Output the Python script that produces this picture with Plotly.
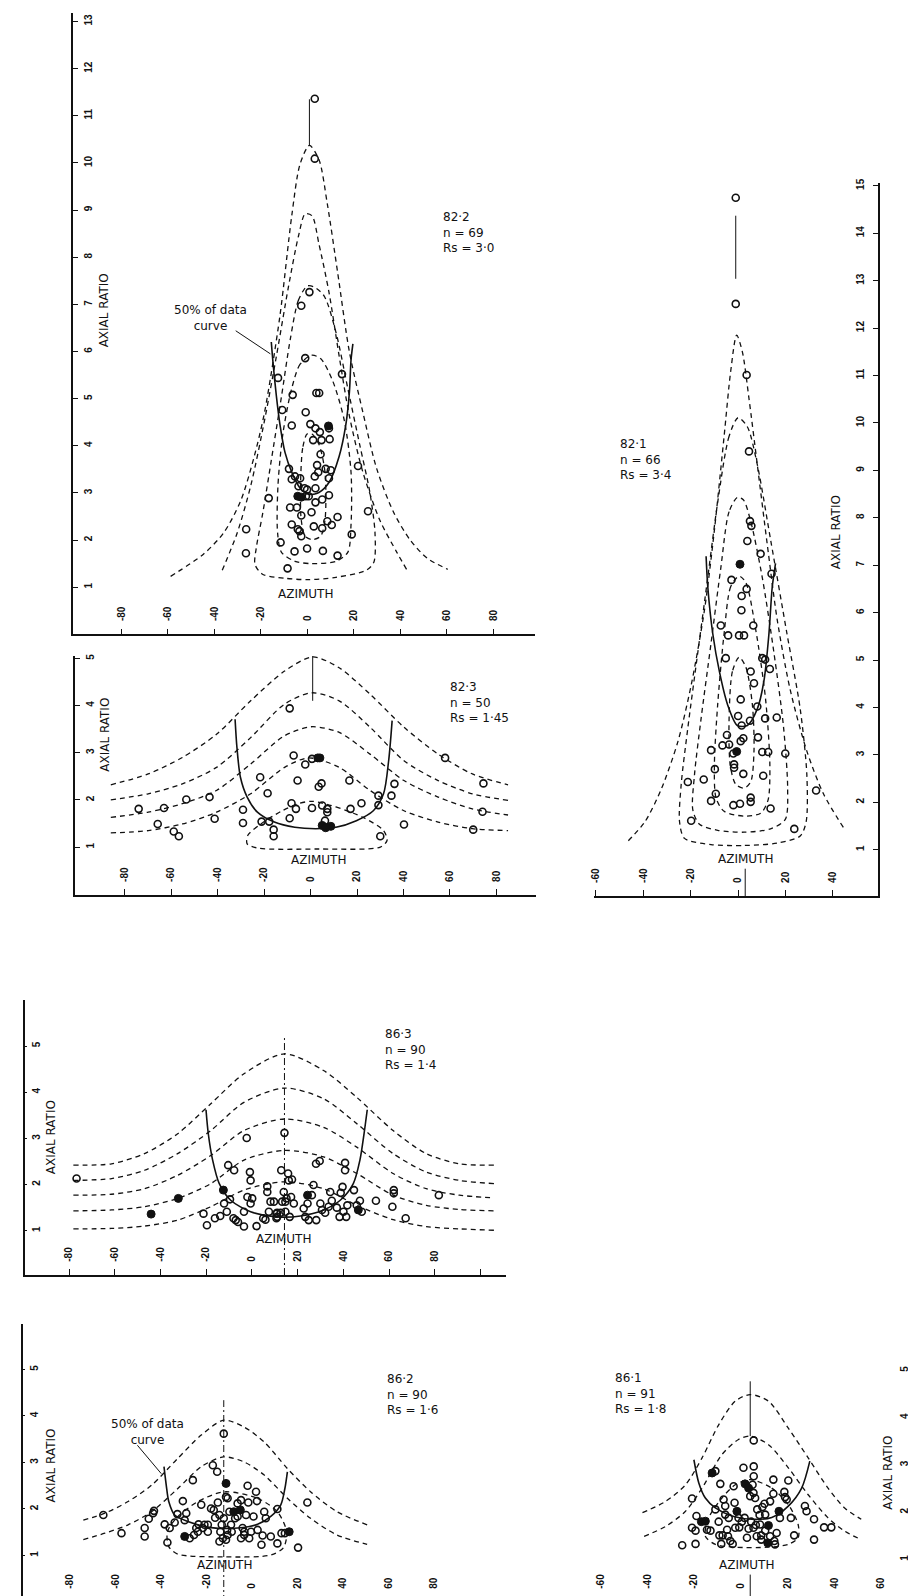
import plotly.graph_objects as go

W, H = 916, 1596
FONT = "DejaVu Sans"
TICKFONT = "Liberation Sans"
INK = "#111111"

# ======================= DATA =======================
# ---- panel 82·2 ----
P822_OPEN = [(3.2, 11.36), (3.2, 10.09), (-2.6, 6.97), (0.9, 7.26), (-0.9, 5.86), (-12.6, 5.44), (14.9, 5.52),
             (-6.3, 5.08), (3.9, 5.12), (5.1, 5.12), (-0.7, 4.71), (-10.8, 4.76), (-6.7, 4.43), (1.3, 4.46),
             (3.5, 4.37), (5.4, 4.29), (9.3, 4.37), (2.5, 4.12), (6.1, 4.12), (9.6, 4.14), (5.7, 3.82),
             (4.2, 3.59), (-7.9, 3.51), (7.9, 3.51), (10.1, 3.48), (21.8, 3.57), (-5.3, 3.35), (-3.1, 3.31),
             (3.2, 3.35), (4.7, 3.44), (9.3, 3.31), (-6.7, 3.29), (-3.8, 3.14), (-1.2, 3.10), (-0.1, 3.07),
             (3.5, 3.10), (-0.6, 2.93), (0.6, 2.93), (9.3, 2.95), (6.4, 2.86), (3.5, 2.80), (-16.6, 2.89),
             (-7.4, 2.69), (-4.5, 2.69), (1.8, 2.59), (-2.6, 2.52), (26.1, 2.61), (13.0, 2.49), (8.6, 2.40),
             (-6.7, 2.33), (-4.1, 2.23), (-3.4, 2.19), (2.8, 2.29), (6.4, 2.25), (10.5, 2.32), (-2.6, 2.08),
             (-26.3, 2.23), (-11.5, 1.95), (19.1, 2.12), (-0.1, 1.82), (-5.5, 1.76), (6.7, 1.77), (13.0, 1.67),
             (-26.4, 1.72), (-8.5, 1.40)]
P822_FILLED = [(9.1, 4.42), (-4.1, 2.93), (-2.6, 2.91)]
C822_1 = [(-58.8, 1.23), (-44.7, 1.70), (-35.9, 2.16), (-28.6, 2.84), (-22.8, 3.78), (-18.4, 4.71), (-11.8, 6.75),
          (-6.7, 8.88), (-3.1, 9.98), (0.9, 10.37), (5.0, 10.07), (8.6, 9.13), (13.0, 7.69), (18.1, 5.99),
          (23.9, 4.71), (29.8, 3.52), (37.1, 2.59), (44.4, 1.99), (51.7, 1.61), (60.4, 1.38)]
C822_2 = [(-36.6, 1.36), (-30.1, 2.16), (-24.2, 3.18), (-18.4, 4.54), (-13.3, 5.90), (-8.2, 7.35), (-3.8, 8.45),
          (-0.9, 8.92), (2.0, 8.88), (5.0, 8.28), (9.3, 7.26), (13.7, 5.90), (18.1, 4.63), (23.9, 3.44),
          (31.2, 2.42), (38.5, 1.74), (42.9, 1.36)]
C822_3 = [(0.0, 7.39), (-3.8, 7.09), (-7.4, 6.24), (-11.1, 5.05), (-15.5, 3.69), (-19.1, 2.59), (-22.0, 1.82),
          (-22.5, 1.48), (-19.1, 1.27), (-9.6, 1.19), (0.6, 1.16), (12.3, 1.21), (25.4, 1.36), (28.6, 1.53),
          (29.1, 2.16), (26.9, 3.01), (22.5, 4.03), (17.4, 5.22), (12.3, 6.41), (7.2, 7.18), (2.8, 7.37), (0.0, 7.39)]
C822_4 = [(1.8, 5.92), (-3.1, 5.73), (-6.7, 5.22), (-10.4, 4.29), (-12.6, 3.18), (-12.8, 2.16), (-11.1, 1.74),
          (-5.3, 1.55), (2.0, 1.50), (12.3, 1.55), (17.4, 1.74), (18.8, 2.33), (18.8, 3.44), (15.9, 4.54),
          (10.8, 5.39), (5.7, 5.85), (1.8, 5.92)]
C822_5 = [(-0.1, 4.25), (-2.0, 3.95), (-2.9, 3.19), (-2.6, 2.42), (-0.9, 2.08), (2.0, 2.01), (5.7, 2.08),
          (7.6, 2.42), (7.6, 3.44), (5.0, 4.03), (2.0, 4.25), (-0.1, 4.25)]
U822 = [(-15.5, 6.2), (-14.7, 5.73), (-13.3, 5.05), (-11.8, 4.46), (-9.6, 3.86), (-6.7, 3.44), (-3.1, 3.10),
        (0.6, 2.97), (5.0, 3.01), (9.3, 3.22), (13.7, 3.78), (16.6, 4.46), (18.1, 5.14), (18.8, 5.82), (19.6, 6.16)]
V822 = [(0.9, 10.37), (0.9, 11.35)]
L822 = [(-30.8, 6.44), (-15.9, 5.95)]

# ---- panel 82·3 ----
P823_OPEN = [(-9.0, 3.94), (-7.3, 2.94), (-2.3, 2.75), (0.6, 2.87), (-21.7, 2.48), (-5.6, 2.41), (4.7, 2.35),
             (3.5, 2.28), (16.7, 2.41), (36.1, 2.34), (57.9, 2.89), (74.4, 2.35), (-18.5, 2.14), (-43.5, 2.06),
             (-53.5, 2.01), (29.2, 2.09), (34.8, 2.09), (-8.2, 1.93), (-6.3, 1.81), (0.6, 1.83), (5.0, 1.88),
             (7.2, 1.81), (7.2, 1.74), (17.2, 1.81), (21.9, 1.93), (29.2, 1.89), (-29.1, 1.79), (-74.0, 1.81),
             (-63.1, 1.83), (74.0, 1.75), (-65.8, 1.49), (-41.3, 1.60), (-29.1, 1.51), (-21.1, 1.54),
             (-17.8, 1.54), (-9.0, 1.61), (6.2, 1.56), (40.2, 1.48), (-58.9, 1.33), (-56.7, 1.23), (-15.9, 1.37),
             (-15.9, 1.23), (30.0, 1.23), (70.0, 1.37)]
P823_FILLED = [(3.1, 2.89), (4.0, 2.89), (5.0, 1.46), (8.7, 1.44), (6.5, 1.41)]
C823_1 = [(-86.0, 2.32), (-69.9, 2.55), (-55.2, 2.90), (-40.5, 3.39), (-25.8, 4.10), (-11.2, 4.73), (0.9, 5.03),
          (12.3, 4.80), (25.6, 4.24), (40.2, 3.54), (54.9, 2.97), (69.6, 2.55), (85.0, 2.32)]
C823_2 = [(-86.0, 2.00), (-69.9, 2.13), (-55.2, 2.34), (-40.5, 2.69), (-25.8, 3.32), (-11.2, 4.03), (0.6, 4.27),
          (12.3, 4.10), (25.6, 3.54), (40.2, 2.83), (54.9, 2.41), (69.6, 2.13), (85.0, 1.99)]
C823_3 = [(-86.0, 1.63), (-69.9, 1.74), (-55.2, 1.92), (-40.5, 2.20), (-25.8, 2.76), (-11.2, 3.36), (0.3, 3.55),
          (12.3, 3.43), (25.6, 2.97), (40.2, 2.41), (54.9, 2.06), (69.6, 1.81), (85.0, 1.68)]
C823_4 = [(-86.0, 1.30), (-69.9, 1.35), (-55.2, 1.49), (-40.5, 1.74), (-25.8, 2.13), (-11.2, 2.69), (-0.9, 2.89),
          (12.3, 2.69), (25.6, 2.20), (40.2, 1.77), (54.9, 1.53), (69.6, 1.39), (85.0, 1.35)]
C823_5 = [(0.6, 1.97), (10.9, 1.85), (22.6, 1.63), (31.4, 1.35), (32.9, 1.14), (30.0, 1.00), (3.5, 0.96),
          (-22.9, 0.98), (-27.3, 1.07), (-27.0, 1.25), (-21.4, 1.49), (-12.6, 1.76), (-5.3, 1.92), (0.6, 1.97)]
U823 = [(-32.5, 3.71), (-31.7, 3.11), (-30.2, 2.48), (-27.3, 2.06), (-22.9, 1.74), (-15.6, 1.53), (-6.8, 1.42),
        (2.1, 1.39), (10.9, 1.42), (19.7, 1.56), (27.0, 1.77), (31.4, 2.13), (33.6, 2.83), (35.1, 3.68)]
V823 = [(0.9, 4.10), (0.9, 5.26)]

# ---- panel 82·1 ----
P821_OPEN = [(-1.0, 14.75), (-1.0, 12.51), (3.6, 11.01), (4.6, 9.40), (5.0, 7.93), (5.6, 7.83), (3.9, 7.51),
             (9.5, 7.24), (-2.8, 6.69), (3.6, 6.50), (14.1, 6.82), (-7.3, 5.73), (-4.2, 5.52), (1.5, 6.35),
             (1.4, 6.05), (0.4, 5.52), (2.5, 5.52), (6.4, 5.73), (-5.2, 5.04), (10.2, 5.04), (11.4, 5.01),
             (13.4, 4.81), (5.3, 4.76), (6.7, 4.51), (8.1, 4.02), (1.1, 4.17), (0.0, 3.82), (1.5, 3.62),
             (5.0, 3.72), (11.4, 3.77), (16.3, 3.79), (-4.7, 3.42), (-6.6, 3.20), (-3.8, 3.22), (-11.4, 3.10),
             (-2.0, 3.03), (1.1, 3.29), (2.2, 3.35), (8.4, 3.37), (10.2, 3.06), (12.7, 3.06), (19.9, 3.03),
             (-1.7, 2.80), (-1.7, 2.73), (2.2, 2.60), (-9.8, 2.70), (-14.5, 2.48), (-21.2, 2.43), (10.6, 2.56),
             (-9.4, 2.18), (-11.4, 2.03), (-2.0, 1.94), (0.8, 1.97), (5.3, 2.10), (5.3, 2.01), (13.7, 1.87),
             (32.9, 2.25), (-19.8, 1.61), (23.7, 1.44)]
P821_FILLED = [(0.8, 7.02), (-0.6, 3.07)]
C821_1 = [(-46.3, 1.19), (-39.3, 1.59), (-32.4, 2.28), (-25.4, 3.28), (-19.8, 4.47), (-14.2, 6.05), (-10.0, 7.74),
          (-5.9, 9.72), (-3.1, 11.10), (-0.6, 11.85), (1.8, 11.50), (4.6, 10.51), (8.1, 9.12), (12.3, 7.44),
          (16.5, 5.85), (22.0, 4.37), (29.0, 3.08), (36.0, 2.18), (44.4, 1.47)]
C821_2 = [(0.0, 10.11), (-3.8, 9.72), (-8.6, 8.33), (-12.8, 6.74), (-17.0, 5.16), (-21.2, 3.57), (-24.0, 2.38),
          (-24.7, 1.59), (-22.6, 1.24), (-11.4, 1.11), (2.5, 1.09), (16.5, 1.14), (26.2, 1.29), (28.7, 1.59),
          (29.0, 2.58), (26.2, 3.97), (20.6, 5.56), (13.7, 7.54), (8.1, 9.12), (3.9, 9.92), (0.0, 10.11)]
C821_3 = [(-0.3, 8.43), (-3.8, 8.13), (-7.3, 6.94), (-11.4, 5.36), (-15.6, 3.77), (-18.4, 2.58), (-19.1, 1.84),
          (-16.3, 1.54), (-8.6, 1.41), (2.5, 1.37), (13.7, 1.44), (19.9, 1.64), (20.9, 2.28), (19.2, 3.57),
          (15.1, 5.16), (10.2, 6.74), (5.3, 7.93), (2.2, 8.38), (-0.3, 8.43)]
C821_4 = [(0.4, 6.77), (-3.1, 6.55), (-5.9, 5.56), (-8.6, 4.07), (-10.0, 2.78), (-9.3, 2.09), (-5.9, 1.81),
          (2.5, 1.71), (9.5, 1.77), (12.6, 2.04), (13.4, 2.78), (11.6, 4.17), (7.4, 5.65), (3.2, 6.64), (0.4, 6.77)]
C821_5 = [(0.4, 5.06), (-2.4, 4.76), (-3.8, 3.77), (-3.3, 2.78), (-1.0, 2.38), (2.5, 2.30), (5.3, 2.43),
          (6.7, 3.08), (6.0, 4.07), (3.2, 4.86), (0.4, 5.06)]
U821 = [(-13.5, 7.19), (-12.8, 6.55), (-10.7, 5.56), (-7.9, 4.76), (-4.5, 4.07), (-0.3, 3.62), (3.9, 3.62),
        (8.1, 3.97), (10.9, 4.56), (13.0, 5.55), (14.4, 6.54), (15.8, 7.04)]
V821 = [(-1.0, 13.04), (-1.0, 14.37)]
V821B = [(3.0, 0.02), (3.0, 0.6)]

# ---- panel 86·3 ----
P863_OPEN = [(-76.7, 2.13), (-21.2, 1.37), (-19.7, 1.12), (-16.2, 1.27), (-13.9, 1.32), (-12.2, 1.59),
             (-11.0, 1.41), (-10.4, 2.42), (-7.8, 2.31), (-9.6, 1.68), (-8.1, 1.27), (-7.1, 1.23), (-6.1, 1.19),
             (-3.5, 1.09), (-3.5, 1.41), (-2.3, 3.01), (-2.0, 1.73), (-0.9, 2.27), (-0.6, 2.09), (-0.6, 1.59),
             (0.1, 1.70), (2.0, 1.10), (4.9, 1.27), (5.9, 1.24), (6.7, 1.96), (6.7, 1.84), (8.1, 1.63),
             (9.6, 1.63), (10.7, 1.27), (11.0, 1.39), (12.5, 1.39), (12.8, 2.31), (13.2, 1.63), (13.9, 1.84),
             (14.2, 3.12), (14.6, 1.63), (15.1, 1.70), (15.8, 2.24), (16.1, 2.09), (16.5, 1.30), (17.5, 2.11),
             (17.1, 1.73), (14.6, 1.41), (22.6, 1.48), (23.3, 1.30), (24.3, 1.59), (26.2, 1.77), (26.9, 1.99),
             (24.8, 1.23), (28.0, 2.45), (29.6, 2.51), (28.1, 1.23), (29.9, 1.59), (30.6, 1.45), (32.0, 1.39),
             (33.5, 1.52), (34.2, 1.84), (34.9, 1.65), (37.1, 1.50), (38.3, 1.30), (38.8, 1.82), (39.6, 1.95),
             (40.0, 1.41), (40.7, 2.47), (40.7, 2.31), (41.2, 1.30), (41.7, 1.55), (44.6, 1.88), (45.8, 1.55),
             (47.2, 1.65), (48.0, 1.41), (54.2, 1.65), (61.4, 1.52), (62.0, 1.88), (62.0, 1.81), (67.2, 1.27),
             (81.7, 1.77), (11.0, 1.30), (7.4, 1.41), (18.3, 1.59), (10.7, 1.37)]
P863_FILLED = [(-44.1, 1.36), (-32.2, 1.70), (-12.5, 1.88), (24.3, 1.77), (46.5, 1.45)]
C863_1 = [(-78.1, 2.42), (-61.4, 2.45), (-47.0, 2.67), (-32.5, 3.10), (-18.0, 3.75), (-3.5, 4.40), (14.2, 4.83),
          (31.3, 4.47), (45.8, 3.89), (61.7, 3.17), (76.2, 2.67), (90.7, 2.45), (105.9, 2.42)]
C863_2 = [(-78.1, 2.09), (-61.4, 2.13), (-47.0, 2.31), (-32.5, 2.67), (-18.0, 3.17), (-3.5, 3.78), (14.2, 4.09),
          (31.3, 3.86), (45.8, 3.32), (61.7, 2.67), (76.2, 2.27), (90.7, 2.09), (105.9, 2.02)]
C863_3 = [(-78.1, 1.77), (-61.4, 1.79), (-47.0, 1.91), (-32.5, 2.20), (-18.0, 2.63), (-3.5, 3.17), (14.2, 3.42),
          (31.3, 3.24), (45.8, 2.81), (61.7, 2.24), (76.2, 1.91), (90.7, 1.77), (105.9, 1.71)]
C863_4 = [(-78.1, 1.43), (-61.4, 1.45), (-47.0, 1.52), (-32.5, 1.70), (-18.0, 2.02), (-3.5, 2.53), (14.2, 2.74),
          (31.3, 2.60), (45.8, 2.24), (61.7, 1.77), (76.2, 1.55), (90.7, 1.46), (105.9, 1.43)]
C863_5 = [(-78.1, 1.04), (-61.4, 1.05), (-47.0, 1.10), (-32.5, 1.23), (-18.0, 1.52), (-3.5, 1.88), (14.2, 2.06),
          (31.3, 1.91), (45.8, 1.55), (61.7, 1.24), (76.2, 1.09), (90.7, 1.04), (105.9, 1.01)]
U863 = [(-20.1, 3.62), (-19.1, 3.10), (-17.2, 2.53), (-14.3, 2.02), (-9.3, 1.66), (-0.6, 1.41), (11.0, 1.30),
        (21.2, 1.32), (31.3, 1.45), (38.6, 1.66), (44.3, 2.02), (47.2, 2.53), (49.0, 3.10), (50.4, 3.62)]
V863 = [(14.2, 0.04), (14.2, 5.22)]

# ---- panel 86·2 ----
P862_OPEN = [(-65.4, 1.87), (-57.4, 1.48), (-47.2, 1.59), (-47.2, 1.41), (-45.4, 1.79), (-43.5, 1.91),
             (-43.1, 1.96), (-38.4, 1.67), (-37.2, 1.28), (-36.2, 1.59), (-34.0, 1.71), (-32.8, 1.89),
             (-30.4, 2.17), (-29.6, 1.76), (-28.9, 1.91), (-27.4, 1.37), (-26.0, 2.62), (-25.5, 1.44),
             (-24.5, 1.59), (-23.5, 1.67), (-22.3, 2.09), (-21.6, 1.59), (-20.9, 1.66), (-19.4, 1.51),
             (-17.2, 2.94), (-16.8, 1.98), (-16.2, 1.81), (-15.3, 2.80), (-15.0, 2.14), (-14.3, 1.87),
             (-14.3, 1.30), (-13.9, 1.51), (-13.3, 1.66), (-12.8, 1.37), (-12.4, 1.80), (-11.4, 2.26),
             (-10.9, 1.55), (-10.7, 1.44), (-9.9, 1.94), (-9.2, 1.66), (-8.9, 1.51), (-7.4, 1.80), (-6.3, 2.12),
             (-6.3, 1.84), (-4.8, 1.37), (-4.1, 1.59), (-3.4, 1.44), (-1.9, 2.50), (-1.6, 2.14), (-1.2, 1.37),
             (-0.4, 1.51), (1.8, 2.37), (2.2, 2.17), (2.5, 1.55), (4.2, 1.23), (4.7, 1.43), (5.4, 1.94),
             (6.1, 1.80), (8.3, 1.41), (11.2, 1.26), (11.2, 2.00), (13.0, 1.48), (14.5, 1.48), (20.3, 1.17),
             (24.4, 2.14), (-19.4, 1.66), (-18.0, 2.01), (-23.8, 1.51), (-10.7, 2.23), (-3.4, 1.51), (-4.8, 2.19),
             (-2.6, 1.87), (-11.4, 1.34), (0.7, 1.84), (-12.4, 3.62)]
P862_FILLED = [(-29.6, 1.41), (-11.4, 2.55), (-8.0, 1.94), (-5.1, 1.98), (16.4, 1.51)]
C862_1 = [(-74.2, 1.76), (-64.7, 1.91), (-54.5, 2.16), (-44.2, 2.51), (-32.6, 3.09), (-22.3, 3.59), (-12.4, 3.91),
          (-3.4, 3.76), (5.4, 3.44), (15.6, 2.87), (25.8, 2.37), (37.5, 1.94), (50.7, 1.66)]
C862_2 = [(-74.2, 1.34), (-64.7, 1.48), (-54.5, 1.66), (-44.2, 1.94), (-32.6, 2.44), (-22.3, 2.91), (-12.4, 3.12),
          (-3.4, 3.01), (5.4, 2.73), (15.6, 2.23), (25.8, 1.80), (37.5, 1.44), (50.7, 1.24)]
C862_3 = [(-12.1, 2.37), (2.5, 2.23), (11.2, 1.94), (15.3, 1.51), (13.9, 1.17), (8.3, 1.01), (-12.1, 0.97),
          (-32.6, 1.03), (-36.6, 1.19), (-37.2, 1.51), (-33.3, 1.80), (-23.8, 2.16), (-12.1, 2.37)]
U862 = [(-38.7, 2.91), (-37.7, 2.51), (-36.6, 2.16), (-34.0, 1.87), (-28.2, 1.73), (-18.0, 1.60), (-6.3, 1.59),
        (2.5, 1.67), (8.3, 1.84), (12.7, 2.09), (14.5, 2.44), (15.6, 2.80)]
V862 = [(-12.4, 0.0), (-12.4, 4.34)]
L862 = [(-50.4, 3.37), (-39.9, 2.76)]

# ---- panel 86·1 ----
P861_OPEN = [(-25.1, 1.30), (-19.4, 1.33), (-20.9, 2.29), (-19.0, 1.92), (-20.9, 1.67), (-19.4, 1.61),
             (-10.9, 2.87), (-13.0, 1.61), (-10.9, 2.06), (-9.5, 1.80), (-8.4, 1.33), (-8.8, 2.60), (-7.4, 2.27),
             (-6.7, 2.13), (-6.7, 1.95), (-9.2, 1.51), (-7.8, 1.51), (-5.9, 1.63), (-5.5, 1.49), (-4.5, 1.39),
             (-3.5, 1.33), (-5.2, 1.88), (-3.1, 2.55), (-2.7, 2.20), (-0.7, 1.68), (-1.0, 1.88), (1.1, 2.94),
             (5.5, 2.97), (5.5, 2.76), (5.0, 2.58), (4.0, 2.34), (5.4, 2.41), (6.1, 2.30), (1.6, 1.88),
             (0.4, 1.80), (2.6, 1.46), (3.3, 1.65), (4.4, 1.80), (5.4, 1.67), (6.4, 1.73), (7.0, 2.06),
             (8.0, 1.94), (8.7, 1.51), (8.7, 1.42), (8.2, 1.74), (9.2, 2.11), (10.1, 2.18), (10.4, 1.61),
             (12.5, 1.49), (12.5, 2.23), (13.9, 2.69), (13.9, 2.39), (14.3, 1.39), (14.6, 1.32), (15.3, 1.56),
             (16.7, 1.88), (18.6, 2.43), (18.9, 2.32), (19.6, 2.27), (20.3, 2.67), (21.4, 1.88), (22.8, 1.51),
             (27.4, 2.13), (28.1, 2.02), (31.3, 1.85), (31.3, 1.42), (35.6, 1.68), (38.7, 1.68), (-14.5, 1.63),
             (-2.4, 1.67), (6.8, 1.49), (10.4, 1.95), (5.5, 3.52)]
P861_FILLED = [(-16.9, 1.80), (-15.2, 1.81), (-12.3, 2.83), (-1.7, 2.02), (1.8, 2.60), (3.3, 2.51),
               (11.5, 1.35), (11.8, 1.72), (16.3, 2.02)]
C861_1 = [(-42.1, 1.99), (-32.2, 2.23), (-23.7, 2.58), (-16.6, 3.15), (-9.5, 3.85), (-2.4, 4.35), (4.0, 4.49),
          (11.8, 4.35), (20.3, 3.78), (28.8, 3.15), (37.3, 2.51), (44.4, 2.09), (51.5, 1.85)]
C861_2 = [(-41.4, 1.49), (-32.2, 1.70), (-23.7, 2.02), (-16.6, 2.51), (-8.1, 3.22), (-1.0, 3.54), (4.0, 3.61),
          (11.8, 3.43), (20.3, 2.94), (28.8, 2.37), (37.3, 1.88), (44.4, 1.60), (51.5, 1.42)]
C861_3 = [(4.0, 2.69), (13.2, 2.51), (20.3, 2.16), (24.5, 1.74), (24.5, 1.46), (20.3, 1.32), (11.8, 1.26),
          (-2.4, 1.26), (-10.9, 1.32), (-15.2, 1.49), (-13.8, 1.88), (-8.1, 2.30), (-2.4, 2.58), (4.0, 2.69)]
U861 = [(-20.1, 3.11), (-18.0, 2.62), (-15.2, 2.30), (-10.9, 2.09), (-3.8, 1.92), (4.7, 1.85), (13.2, 1.89),
        (20.3, 2.13), (26.0, 2.51), (29.5, 3.08)]
V861 = [(4.0, 3.61), (4.0, 4.77)]
V861B = [(4.0, 0.1), (4.0, 0.68)]

# tick values / labels
X_TICKS_A = [-80, -60, -40, -20, 0, 20, 40, 60, 80]
X_TEXT_A = ["-80", "-60", "-40", "-20", "0", "20", "40", "60", "80"]
X_TICKS_863 = [-80, -60, -40, -20, 0, 20, 40, 60, 80, 100]
X_TEXT_863 = ["-80", "-60", "-40", "-20", "0", "20", "40", "60", "80", ""]
X_TICKS_821 = [-60, -40, -20, 0, 20, 40]
X_TEXT_821 = ["-60", "-40", "-20", "0", "20", "40"]
X_TICKS_861 = [-60, -40, -20, 0, 20, 40, 60]
X_TEXT_861 = ["-60", "-40", "-20", "0", "20", "40", "60"]
Y_TICKS_822 = list(range(1, 14))
Y_TICKS_821 = list(range(1, 16))
Y_TICKS_5 = [1, 2, 3, 4, 5]

LABEL_822 = "82·2<br>n = 69<br>Rs = 3·0"
LABEL_823 = "82·3<br>n = 50<br>Rs = 1·45"
LABEL_821 = "82·1<br>n = 66<br>Rs = 3·4"
LABEL_863 = "86·3<br>n = 90<br>Rs = 1·4"
LABEL_862 = "86·2<br>n = 90<br>Rs = 1·6"
LABEL_861 = "86·1<br>n = 91<br>Rs = 1·8"

# ======================= FIGURE =======================
fig = go.Figure()
layout = {}
annotations = []


def xy(pts):
    return [p[0] for p in pts], [p[1] for p in pts]


def add_panel(i, xpx, ypx, xr, yr, xticks, xtext, yticks, yside, yline=True, yticklen=5, ystandoff=1):
    sx = "" if i == 1 else str(i)
    tickfont = dict(family=TICKFONT, size=10, color=INK, weight="bold")
    layout["xaxis" + sx] = dict(
        domain=[xpx[0] / W, xpx[1] / W], range=xr, anchor="y" + sx,
        showline=True, linecolor=INK, linewidth=1.6, mirror=False,
        ticks="inside", ticklen=6, tickwidth=1.3, tickcolor=INK,
        tickmode="array", tickvals=xticks, ticktext=xtext, tickangle=-90,
        ticklabelposition="inside", ticklabelstandoff=3, ticklabeloverflow="allow",
        showgrid=False, zeroline=False, tickfont=tickfont)
    layout["yaxis" + sx] = dict(
        domain=[1 - ypx[1] / H, 1 - ypx[0] / H], range=yr, anchor="x" + sx, side=yside,
        showline=yline, linecolor=INK, linewidth=1.6,
        ticks="inside", ticklen=yticklen, tickwidth=1.3, tickcolor=INK,
        tickmode="array", tickvals=yticks, ticktext=[str(v) for v in yticks], tickangle=-90,
        ticklabelposition="inside", ticklabelstandoff=ystandoff, ticklabeloverflow="allow",
        showgrid=False, zeroline=False, tickfont=tickfont)
    return "x" + sx, "y" + sx


def curve(xa, ya, pts, dash="5px,4px", width=1.3, spline=True):
    x, y = xy(pts)
    fig.add_trace(go.Scatter(
        x=x, y=y, xaxis=xa, yaxis=ya, mode="lines", hoverinfo="skip", showlegend=False,
        line=dict(color=INK, width=width, dash=dash,
                  shape="spline" if spline else "linear", smoothing=0.8)))


def points(xa, ya, open_pts, filled_pts):
    x, y = xy(open_pts)
    fig.add_trace(go.Scatter(
        x=x, y=y, xaxis=xa, yaxis=ya, mode="markers", showlegend=False,
        marker=dict(symbol="circle-open", size=7, color=INK, line=dict(width=1.6, color=INK))))
    x, y = xy(filled_pts)
    fig.add_trace(go.Scatter(
        x=x, y=y, xaxis=xa, yaxis=ya, mode="markers", showlegend=False,
        marker=dict(symbol="circle", size=8, color=INK, line=dict(width=1, color=INK))))


def text(xa, ya, x, y, s, angle=0, align="center", xanchor="center", size=12):
    annotations.append(dict(
        x=x, y=y, xref=xa, yref=ya, text=s, showarrow=False, textangle=angle, align=align,
        xanchor=xanchor, yanchor="middle", font=dict(family=FONT, size=size, color=INK)))


def panel_common(xa, ya, dashed, ucurve, open_pts, filled_pts, vlines, vdash="solid"):
    for c in dashed:
        curve(xa, ya, c)
    curve(xa, ya, ucurve, dash="solid", width=1.6)
    for v in vlines:
        curve(xa, ya, v, dash=vdash, width=1.0, spline=False)
    points(xa, ya, open_pts, filled_pts)


# ---- 82·2 ----
xa, ya = add_panel(1, (61.7, 525), (0, 623.3), [-100.6, 97.8], [0.0, 13.18],
                   X_TICKS_A, X_TEXT_A, Y_TICKS_822, "left")
panel_common(xa, ya, [C822_1, C822_2, C822_3, C822_4, C822_5], U822, P822_OPEN, P822_FILLED, [V822])
curve(xa, ya, L822, dash="solid", width=1.0, spline=False)
text(xa, ya, -41.5, 6.72, "50% of data<br>curve")
text(xa, ya, 57.5, 8.52, LABEL_822, align="left", xanchor="left")
text(xa, ya, -87.3, 6.88, "AXIAL RATIO", angle=-90)
text(xa, ya, -0.9, 0.85, "AZIMUTH")

# ---- 82·3 ----
xa, ya = add_panel(2, (63.3, 526), (645, 885), [-101.4, 96.9], [-0.02, 5.05],
                   X_TICKS_A, X_TEXT_A, Y_TICKS_5, "left")
panel_common(xa, ya, [C823_1, C823_2, C823_3, C823_4, C823_5], U823, P823_OPEN, P823_FILLED, [V823])
text(xa, ya, 59.3, 4.06, LABEL_823, align="left", xanchor="left")
text(xa, ya, -88.3, 3.39, "AXIAL RATIO", angle=-90)
text(xa, ya, 3.5, 0.72, "AZIMUTH")

# ---- 82·1 ----
xa, ya = add_panel(3, (585, 870), (171, 886), [-60.6, 59.1], [0.02, 15.05],
                   X_TICKS_821, X_TEXT_821, Y_TICKS_821, "right", ystandoff=6)
panel_common(xa, ya, [C821_1, C821_2, C821_3, C821_4, C821_5], U821, P821_OPEN, P821_FILLED, [V821, V821B])
text(xa, ya, -50.5, 9.22, LABEL_821, align="left", xanchor="left")
text(xa, ya, 41.6, 7.69, "AXIAL RATIO", angle=-90)
text(xa, ya, 3.2, 0.80, "AZIMUTH")

# ---- 86·3 ----
xa, ya = add_panel(4, (12.7, 496), (990, 1266), [-99.4, 111], [0.04, 6.0],
                   X_TICKS_863, X_TEXT_863, Y_TICKS_5, "left", yticklen=3, ystandoff=0)
panel_common(xa, ya, [C863_1, C863_2, C863_3, C863_4, C863_5], U863, P863_OPEN, P863_FILLED, [V863],
             vdash="7px,3px,2px,3px")
text(xa, ya, 57.1, 4.93, LABEL_863, align="left", xanchor="left")
text(xa, ya, -87.8, 3.03, "AXIAL RATIO", angle=-90)
text(xa, ya, 14.0, 0.81, "AZIMUTH")

# ---- 86·2 ----
xa, ya = add_panel(5, (10.7, 468.3), (1315, 1594), [-100.9, 99.6], [0.0, 5.98],
                   X_TICKS_A, X_TEXT_A, Y_TICKS_5, "left", yticklen=3, ystandoff=0)
panel_common(xa, ya, [C862_1, C862_2, C862_3], U862, P862_OPEN, P862_FILLED, [V862],
             vdash="7px,3px,2px,3px")
curve(xa, ya, L862, dash="solid", width=1.0, spline=False)
text(xa, ya, -46.0, 3.66, "50% of data<br>curve")
text(xa, ya, 58.7, 4.47, LABEL_862, align="left", xanchor="left")
text(xa, ya, -88.3, 2.94, "AXIAL RATIO", angle=-90)
text(xa, ya, -12.1, 0.79, "AZIMUTH")

# ---- 86·1 ----
xa, ya = add_panel(6, (560, 914), (1320, 1594), [-73.3, 77.5], [0.1, 5.88],
                   X_TICKS_861, X_TEXT_861, Y_TICKS_5, "right", yline=False, ystandoff=6)
panel_common(xa, ya, [C861_1, C861_2, C861_3], U861, P861_OPEN, P861_FILLED, [V861, V861B])
text(xa, ya, -54.9, 4.52, LABEL_861, align="left", xanchor="left")
text(xa, ya, 62.8, 2.83, "AXIAL RATIO", angle=-90)
text(xa, ya, 2.6, 0.89, "AZIMUTH")

fig.update_layout(
    width=W, height=H, margin=dict(l=0, r=0, t=0, b=0),
    paper_bgcolor="white", plot_bgcolor="white", showlegend=False,
    annotations=annotations, **layout)

fig.write_html("out.html")
